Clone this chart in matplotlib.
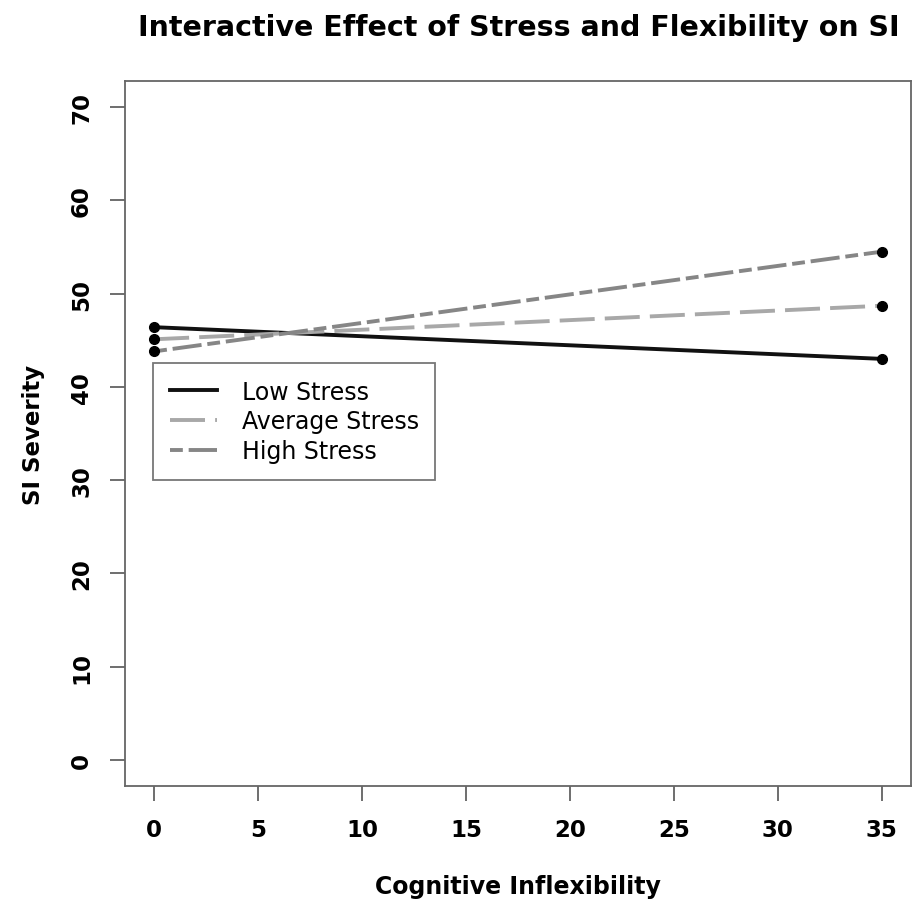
import matplotlib
matplotlib.use("Agg")
import matplotlib.pyplot as plt
from matplotlib.lines import Line2D

plt.rcParams["font.family"] = ["DejaVu Sans"]

# data
inflex = [0, 35]
low_stress = [46.4, 43.0]
avg_stress = [45.1, 48.7]
high_stress = [43.8, 54.5]
series_names = ["Low Stress", "Average Stress", "High Stress"]
x_ticks = [0, 5, 10, 15, 20, 25, 30, 35]
y_ticks = [0, 10, 20, 30, 40, 50, 60, 70]

fig = plt.figure(figsize=(9.14, 9.03), dpi=100)
ax = fig.add_axes([0.1368, 0.1285, 0.8599, 0.7807])

styles = [
    dict(color="#111111", linestyle="-"),
    dict(color="#a8a8a8", linestyle=(0, (9, 2.6))),
    dict(color="#868686", linestyle=(0, (3.3, 1.5, 7.5, 1.5))),
]
for vals, st in zip([low_stress, avg_stress, high_stress], styles):
    ax.plot(inflex, vals, linewidth=2.8, **st)
    ax.plot(inflex, vals, "o", color="black", markersize=7, zorder=3)

ax.set_xlim(-1.4, 36.4)
ax.set_ylim(-2.8, 72.8)
ax.set_xticks(x_ticks)
ax.set_yticks(y_ticks)
ax.tick_params(axis="both", direction="out", length=11, width=1.2, color="#555555",
               labelsize=16.5, pad=12)
for lab in ax.get_xticklabels():
    lab.set_fontweight("bold")
for lab in ax.get_yticklabels():
    lab.set_fontweight("bold")
    lab.set_rotation(90)
    lab.set_va("center")
for sp in ax.spines.values():
    sp.set_color("#666666")
    sp.set_linewidth(1.3)

ax.set_xlabel("Cognitive Inflexibility", fontsize=17, fontweight="bold", labelpad=24)
ax.set_ylabel("SI Severity", fontsize=16.5, fontweight="bold", labelpad=18)
fig.suptitle("Interactive Effect of Stress and Flexibility on SI", x=0.568, y=0.985,
             fontsize=20.5, fontweight="bold")

handles = [Line2D([0], [0], linewidth=2.8, **st) for st in styles]
leg = ax.legend(handles, series_names, loc="upper left", bbox_to_anchor=(0.0356, 0.6),
                fontsize=17, frameon=True, fancybox=False, handlelength=2.0,
                borderpad=0.7, labelspacing=0.25, handletextpad=1.05, borderaxespad=0)
leg.get_frame().set_edgecolor("#555555")
leg.get_frame().set_linewidth(1.3)

fig.savefig("out.png", dpi=100)
